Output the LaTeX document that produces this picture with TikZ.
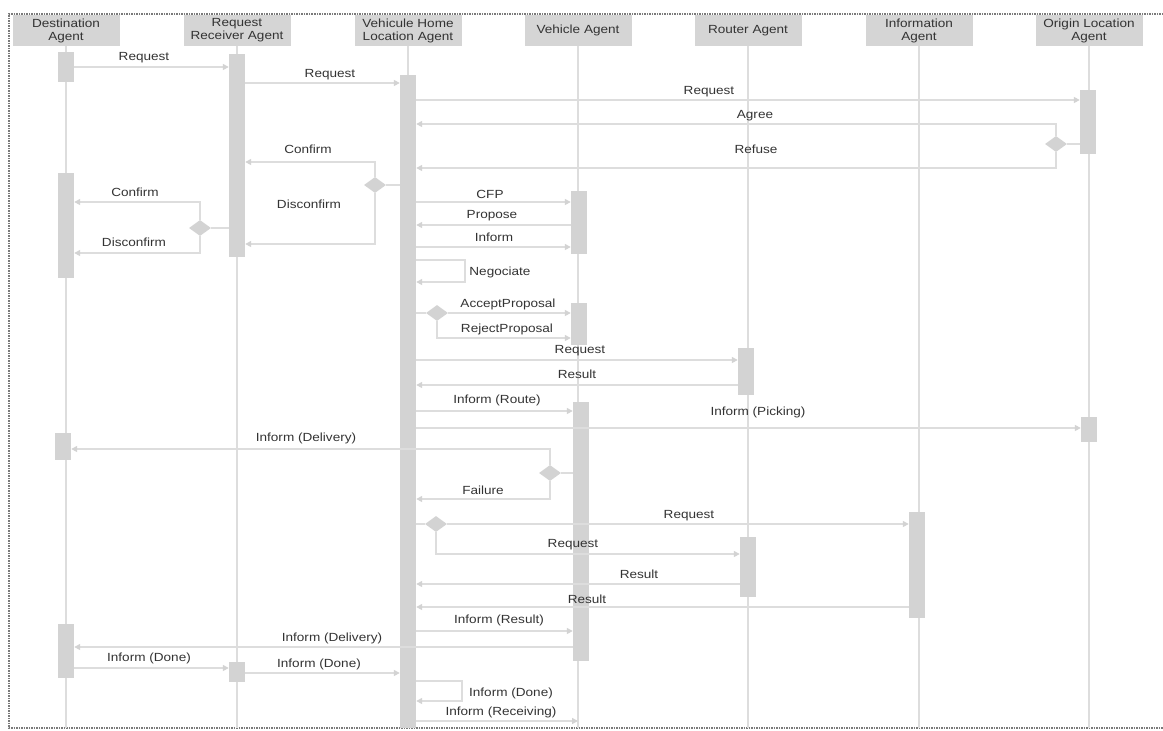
\documentclass[tikz,border=0pt]{standalone}
\usepackage{fontspec}
\setmainfont[FakeStretch=1.15]{Liberation Sans}
\usetikzlibrary{arrows.meta, shapes.geometric}
\definecolor{boxgray}{HTML}{D5D5D5}
\definecolor{bargray}{HTML}{D3D3D3}
\definecolor{linegray}{HTML}{DDDDDD}
\definecolor{txtgray}{HTML}{333333}
\definecolor{framegray}{HTML}{7A7A7A}

\begin{document}
\begin{tikzpicture}[x=1pt, y=-1pt,
    agent/.style={fill=boxgray, text=txtgray, minimum width=107pt, minimum height=31pt,
        inner sep=1pt, align=center, font=\fontsize{11.8}{13}\selectfont},
    bar/.style={fill=bargray, minimum width=16pt, inner sep=0pt},
    msg/.style={draw=linegray, line width=1.5pt, -{Triangle[length=6pt, width=6pt, color=bargray]}},
    link/.style={draw=linegray, line width=1.5pt},
    choice/.style={diamond, fill=bargray, minimum width=22pt, minimum height=16pt, inner sep=0pt},
    lbl/.style={text=txtgray, anchor=base, inner sep=0pt, font=\fontsize{11.8}{13}\selectfont}]

    \useasboundingbox (0,0) rectangle (1163,731);
    % frame
    \draw[framegray, densely dotted, line width=1.5pt] (1163,14) -- (9,14) -- (9,728) -- (1163,728);

    % agents and lifelines
    \foreach \x/\n/\t in {66/hD/{Destination\\Agent}, 237/hR/{Request\\Receiver Agent},
        408/hV/{Vehicule Home\\Location Agent}, 578/hA/{Vehicle Agent}, 748/hT/{Router Agent},
        919/hI/{Information\\Agent}, 1089/hO/{Origin Location\\Agent}} {
        \node[agent] (\n) at (\x,30.5) {\t};
        \draw[linegray, line width=1.5pt] (\n.south) -- (\n.south |- 0,728);
    }

    % activation bars
    \node[bar, minimum height=30pt] (d1) at (66,67) {};
    \node[bar, minimum height=105pt] (d2) at (66,225.5) {};
    \node[bar, minimum height=27pt] (d3) at (63,446.5) {};
    \node[bar, minimum height=54pt] (d4) at (66,651) {};
    \node[bar, minimum height=203pt] (r1) at (237,155.5) {};
    \node[bar, minimum height=20pt] (r2) at (237,672) {};
    \node[bar, minimum height=653pt] (v1) at (408,401.5) {};
    \node[bar, minimum height=63pt] (a1) at (579,222.5) {};
    \node[bar, minimum height=42pt] (a2) at (579,324) {};
    \node[bar, minimum height=259pt] (a3) at (581,531.5) {};
    \node[bar, minimum height=47pt] (t1) at (746,371.5) {};
    \node[bar, minimum height=60pt] (t2) at (748,567) {};
    \node[bar, minimum height=106pt] (i1) at (917,565) {};
    \node[bar, minimum height=64pt] (o1) at (1088,122) {};
    \node[bar, minimum height=25pt] (o2) at (1089,429.5) {};

    % choices
    \node[choice] (cR) at (200,228) {};
    \node[choice] (cV) at (375,185) {};
    \node[choice] (cO) at (1056,144) {};
    \node[choice] (cA) at (437,313) {};
    \node[choice] (cF) at (550,473) {};
    \node[choice] (cI) at (436,524) {};

    % requests
    \draw[msg] (d1.east |- 0,67) -- (r1.west |- 0,67);
    \node[lbl] (m1) at (144,60) {Request};
    \draw[msg] (r1.east |- 0,83) -- (v1.west |- 0,83);
    \node[lbl] (m2) at (330,77) {Request};
    \draw[msg] (v1.east |- 0,100) -- (o1.west |- 0,100);
    \node[lbl] (m3) at (709,94) {Request};

    % agree / refuse
    \draw[link] (o1.west |- cO) -- (cO.east);
    \draw[msg] (cO.north) |- (v1.east |- 0,124);
    \node[lbl] (m4) at (755,118) {Agree};
    \draw[msg] (cO.south) |- (v1.east |- 0,168);
    \node[lbl] (m5) at (756,153) {Refuse};

    % confirm / disconfirm
    \draw[link] (v1.west |- cV) -- (cV.east);
    \draw[msg] (cV.north) |- (r1.east |- 0,162);
    \node[lbl] (m6) at (308,153) {Confirm};
    \draw[msg] (cV.south) |- (r1.east |- 0,244);
    \node[lbl] (m7) at (309,208) {Disconfirm};
    \draw[link] (r1.west |- cR) -- (cR.east);
    \draw[msg] (cR.north) |- (d2.east |- 0,202);
    \node[lbl] (m8) at (135,196) {Confirm};
    \draw[msg] (cR.south) |- (d2.east |- 0,253);
    \node[lbl] (m9) at (134,246) {Disconfirm};

    % vehicle negotiation
    \draw[msg] (v1.east |- 0,202) -- (a1.west |- 0,202);
    \node[lbl] (m10) at (490,198) {CFP};
    \draw[msg] (a1.west |- 0,225) -- (v1.east |- 0,225);
    \node[lbl] (m11) at (492,218) {Propose};
    \draw[msg] (v1.east |- 0,247) -- (a1.west |- 0,247);
    \node[lbl] (m12) at (494,241) {Inform};
    \draw[msg] (v1.east |- 0,260) -- ++(49,0) -- ++(0,22) -- (v1.east |- 0,282);
    \node[lbl] (m13) at (500,275) {Negociate};
    \draw[link] (v1.east |- cA) -- (cA.west);
    \draw[msg] (cA.east) -- (a2.west |- cA);
    \node[lbl] (m14) at (508,307) {AcceptProposal};
    \draw[msg] (cA.south) |- (a2.west |- 0,338);
    \node[lbl] (m15) at (507,332) {RejectProposal};

    % route
    \draw[msg] (v1.east |- 0,360) -- (t1.west |- 0,360);
    \node[lbl] (m16) at (580,353) {Request};
    \draw[msg] (t1.west |- 0,385) -- (v1.east |- 0,385);
    \node[lbl] (m17) at (577,378) {Result};
    \draw[msg] (v1.east |- 0,411) -- (a3.west |- 0,411);
    \node[lbl] (m18) at (497,403) {Inform (Route)};
    \draw[msg] (v1.east |- 0,428) -- (o2.west |- 0,428);
    \node[lbl] (m19) at (758,415) {Inform (Picking)};

    % delivery / failure
    \draw[link] (a3.west |- cF) -- (cF.east);
    \draw[msg] (cF.north) |- (d3.east |- 0,449);
    \node[lbl] (m20) at (306,441) {Inform (Delivery)};
    \draw[msg] (cF.south) |- (v1.east |- 0,499);
    \node[lbl] (m21) at (483,494) {Failure};

    % information request
    \draw[link] (v1.east |- cI) -- (cI.west);
    \draw[msg] (cI.east) -- (i1.west |- cI);
    \node[lbl] (m22) at (689,518) {Request};
    \draw[msg] (cI.south) |- (t2.west |- 0,554);
    \node[lbl] (m23) at (573,547) {Request};
    \draw[msg] (t2.west |- 0,584) -- (v1.east |- 0,584);
    \node[lbl] (m24) at (639,578) {Result};
    \draw[msg] (i1.west |- 0,607) -- (v1.east |- 0,607);
    \node[lbl] (m25) at (587,603) {Result};

    % closing
    \draw[msg] (v1.east |- 0,631) -- (a3.west |- 0,631);
    \node[lbl] (m26) at (499,623) {Inform (Result)};
    \draw[msg] (a3.west |- 0,647) -- (d4.east |- 0,647);
    \node[lbl] (m27) at (332,641) {Inform (Delivery)};
    \draw[msg] (d4.east |- 0,668) -- (r2.west |- 0,668);
    \node[lbl] (m28) at (149,661) {Inform (Done)};
    \draw[msg] (r2.east |- 0,673) -- (v1.west |- 0,673);
    \node[lbl] (m29) at (319,667) {Inform (Done)};
    \draw[msg] (v1.east |- 0,681) -- ++(46,0) -- ++(0,20) -- (v1.east |- 0,701);
    \node[lbl] (m30) at (511,696) {Inform (Done)};
    \draw[msg] (v1.east |- 0,721) -- (hA |- 0,721);
    \node[lbl] (m31) at (501,715) {Inform (Receiving)};
\end{tikzpicture}
\end{document}
